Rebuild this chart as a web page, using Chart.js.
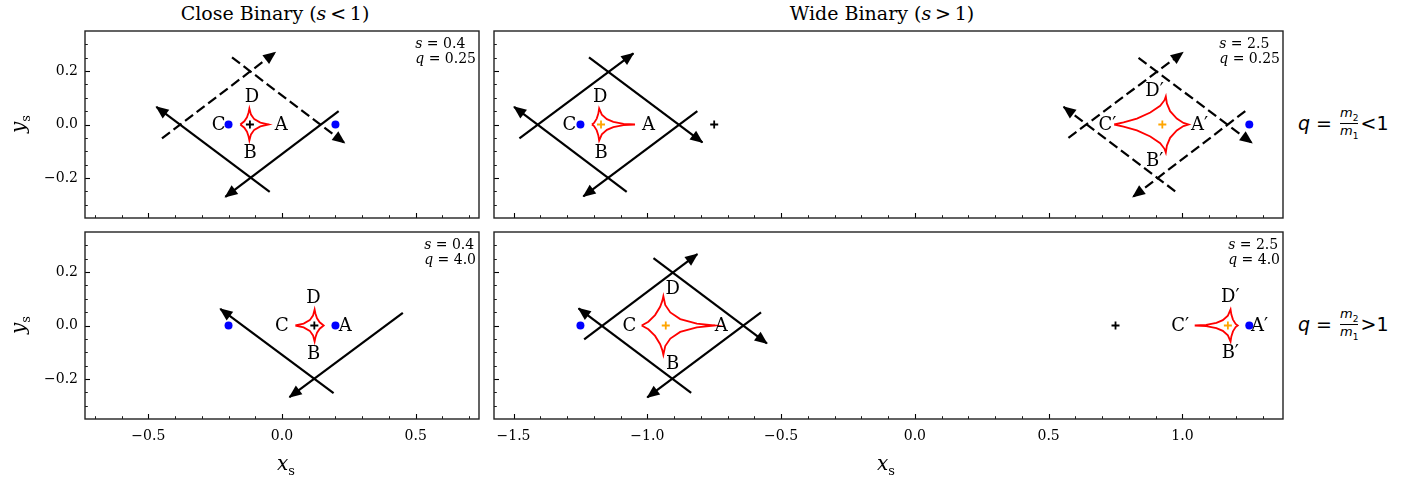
<!DOCTYPE html>
<html>
<head>
<meta charset="utf-8">
<title>Binary lens caustics</title>
<script src="https://cdn.jsdelivr.net/npm/chart.js@4.4.1/dist/chart.umd.min.js"></script>
<style>
  body { margin: 0; background: #fff; }
  #fig { position: relative; width: 1421px; height: 481px; overflow: hidden; font-family: "DejaVu Serif", serif; color: #000; }
  #fig canvas { position: absolute; }
  .lbl { position: absolute; white-space: nowrap; transform: translate(-50%, -50%); }
  .title { font-size: 19px; }
  .axl { font-size: 20px; }
  .axl sub { font-size: 13px; font-style: normal; }
  .rot { transform: translate(-50%, -50%) rotate(-90deg); }
  .side { position: absolute; font-family: "DejaVu Sans", sans-serif; font-size: 19px; white-space: nowrap; transform: translateY(-50%); }
  .frac { display: inline-flex; flex-direction: column; vertical-align: middle; font-size: 13px; line-height: 1.1; text-align: center; margin: 0 2px; }
  .frac span:first-child { border-bottom: 0.8px solid #000; }
  .frac sub { font-size: 9px; font-style: normal; }
</style>
</head>
<body>
<div id="fig">
  <canvas id="cTL"></canvas>
  <canvas id="cTR"></canvas>
  <canvas id="cBL"></canvas>
  <canvas id="cBR"></canvas>

  <div class="lbl title" style="left:275px;top:13px">Close Binary (<i>s</i>&thinsp;&lt;&thinsp;1)</div>
  <div class="lbl title" style="left:882px;top:13px">Wide Binary (<i>s</i>&thinsp;&gt;&thinsp;1)</div>
  <div class="lbl axl rot" style="left:19px;top:124px"><i>y</i><sub>s</sub></div>
  <div class="lbl axl rot" style="left:19px;top:325px"><i>y</i><sub>s</sub></div>
  <div class="lbl axl" style="left:286px;top:464px"><i>x</i><sub>s</sub></div>
  <div class="lbl axl" style="left:886px;top:464px"><i>x</i><sub>s</sub></div>
  <div class="side" style="left:1298px;top:124px"><i>q</i> = <span class="frac"><span><i>m</i><sub>2</sub></span><span><i>m</i><sub>1</sub></span></span>&lt;1</div>
  <div class="side" style="left:1298px;top:325px"><i>q</i> = <span class="frac"><span><i>m</i><sub>2</sub></span><span><i>m</i><sub>1</sub></span></span>&gt;1</div>
</div>
<script>
// axis limits, same scale on x and y
const xRangeClose = [-0.737, 0.737];
const xRangeWide = [-1.573, 1.376];
const yRange = [-0.35, 0.35];

const xTicksClose = [-0.5, 0.0, 0.5];
const xMinorClose = [-0.7, -0.6, -0.4, -0.3, -0.2, -0.1, 0.1, 0.2, 0.3, 0.4, 0.6, 0.7];
const xTicksWide = [-1.5, -1.0, -0.5, 0.0, 0.5, 1.0];
const xMinorWide = [-1.4, -1.3, -1.2, -1.1, -0.9, -0.8, -0.7, -0.6, -0.4, -0.3, -0.2, -0.1,
                    0.1, 0.2, 0.3, 0.4, 0.6, 0.7, 0.8, 0.9, 1.1, 1.2, 1.3];
const yTicks = [-0.2, 0.0, 0.2];
const yMinor = [-0.3, -0.25, -0.15, -0.1, -0.05, 0.05, 0.1, 0.15, 0.25, 0.3];

// ---- close binary, s=0.4, q=0.25
const lensesTL = [[-0.2, 0], [0.2, 0]];
const comTL = [[-0.12, 0]];
const centersTL = [];
const causticTL = [[-0.156, 0], [-0.141, 0.012], [-0.131, 0.027], [-0.125, 0.045], [-0.122, 0.060],
  [-0.116, 0.037], [-0.104, 0.020], [-0.081, 0.007], [-0.050, 0], [-0.081, -0.007], [-0.104, -0.020],
  [-0.116, -0.037], [-0.122, -0.060], [-0.125, -0.045], [-0.131, -0.027], [-0.141, -0.012], [-0.156, 0]];
const solidTL = [[[-0.046, -0.252], [-0.470, 0.066]], [[0.212, 0.050], [-0.212, -0.271]]];
const dashedTL = [[[-0.449, -0.052], [-0.025, 0.270]], [[-0.187, 0.251], [0.234, -0.069]]];
const labelsTL = [['D', -0.112, 0.106], ['C', -0.237, 0], ['A', -0.003, 0], ['B', -0.119, -0.106]];
const paramsTL = ['0.4', '0.25'];

// ---- wide binary, s=2.5, q=0.25
const lensesTR = [[-1.25, 0], [1.25, 0]];
const comTR = [[-0.75, 0]];
const centersTR = [[-1.173, 0], [0.925, 0]];
const causticTR1 = [[-1.207, 0], [-1.199, 0.006], [-1.189, 0.022], [-1.183, 0.041], [-1.180, 0.060],
  [-1.170, 0.037], [-1.151, 0.020], [-1.127, 0.010], [-1.089, 0.002], [-1.046, 0], [-1.089, -0.002],
  [-1.127, -0.010], [-1.151, -0.020], [-1.170, -0.037], [-1.180, -0.060], [-1.183, -0.041],
  [-1.189, -0.022], [-1.199, -0.006], [-1.207, 0]];
const causticTR2 = [[0.745, 0], [0.780, 0.008], [0.830, 0.022], [0.880, 0.045], [0.917, 0.070],
  [0.933, 0.091], [0.938, 0.105], [0.942, 0.079], [0.954, 0.050], [0.979, 0.022], [1.004, 0.006],
  [1.023, 0], [1.004, -0.006], [0.979, -0.022], [0.954, -0.050], [0.942, -0.079], [0.938, -0.105],
  [0.933, -0.091], [0.917, -0.070], [0.880, -0.045], [0.830, -0.022], [0.780, -0.008], [0.745, 0]];
const solidTR = [[[-1.478, -0.052], [-1.052, 0.266]], [[-1.218, 0.251], [-0.794, -0.067]],
  [[-0.813, 0.050], [-1.239, -0.269]], [[-1.077, -0.252], [-1.498, 0.066]]];
const dashedTR = [[[0.574, -0.050], [1.002, 0.270]], [[0.836, 0.249], [1.260, -0.069]],
  [[1.235, 0.050], [0.815, -0.271]], [[0.973, -0.250], [0.556, 0.066]]];
const labelsTR = [['D', -1.176, 0.106], ['C', -1.291, 0], ['A', -0.996, 0], ['B', -1.173, -0.106],
  ['D\u2032', 0.896, 0.128], ['C\u2032', 0.720, 0], ['A\u2032', 1.064, 0], ['B\u2032', 0.896, -0.134]];
const paramsTR = ['2.5', '0.25'];

// ---- close binary, s=0.4, q=4.0
const lensesBL = [[-0.2, 0], [0.2, 0]];
const comBL = [[0.121, 0]];
const centersBL = [];
const causticBL = [[0.050, 0], [0.081, 0.007], [0.104, 0.020], [0.116, 0.037], [0.122, 0.060],
  [0.125, 0.045], [0.131, 0.027], [0.141, 0.012], [0.156, 0], [0.141, -0.012], [0.131, -0.027],
  [0.125, -0.045], [0.122, -0.060], [0.116, -0.037], [0.104, -0.020], [0.081, -0.007], [0.050, 0]];
const solidBL = [[[0.452, 0.047], [0.028, -0.268]], [[0.193, -0.253], [-0.231, 0.062]]];
const dashedBL = [];
const labelsBL = [['D', 0.118, 0.106], ['C', 0.0, 0], ['A', 0.237, 0], ['B', 0.118, -0.106]];
const paramsBL = ['0.4', '4.0'];

// ---- wide binary, s=2.5, q=4.0
const lensesBR = [[-1.25, 0], [1.25, 0]];
const comBR = [[0.75, 0]];
const centersBR = [[-0.931, 0], [1.170, 0]];
const causticBR1 = [[-1.021, 0], [-0.996, 0.014], [-0.971, 0.039], [-0.952, 0.070], [-0.944, 0.092],
  [-0.940, 0.110], [-0.933, 0.077], [-0.914, 0.049], [-0.877, 0.024], [-0.815, 0.007], [-0.747, 0],
  [-0.815, -0.007], [-0.877, -0.024], [-0.914, -0.049], [-0.933, -0.077], [-0.940, -0.110],
  [-0.944, -0.092], [-0.952, -0.070], [-0.971, -0.039], [-0.996, -0.014], [-1.021, 0]];
const causticBR2 = [[1.046, 0], [1.089, 0.002], [1.127, 0.010], [1.151, 0.020], [1.170, 0.037],
  [1.180, 0.060], [1.183, 0.041], [1.189, 0.022], [1.199, 0.006], [1.207, 0], [1.199, -0.006],
  [1.189, -0.022], [1.183, -0.041], [1.180, -0.060], [1.170, -0.037], [1.151, -0.020],
  [1.127, -0.010], [1.089, -0.002], [1.046, 0]];
const solidBR = [[[-1.236, -0.052], [-0.813, 0.267]], [[-0.977, 0.252], [-0.553, -0.067]],
  [[-0.575, 0.049], [-1.000, -0.269]], [[-0.836, -0.252], [-1.257, 0.064]]];
const dashedBR = [];
const labelsBR = [['D', -0.905, 0.139], ['C', -1.067, 0], ['A', -0.724, 0], ['B', -0.905, -0.142],
  ['D\u2032', 1.179, 0.110], ['C\u2032', 0.992, 0], ['A\u2032', 1.288, 0], ['B\u2032', 1.179, -0.102]];
const paramsBR = ['2.5', '4.0'];

const SERIF = '"DejaVu Serif", serif';

function xy(list) {
  return list.map(p => ({ x: p[0], y: p[1] }));
}

function fmtTick(v) {
  if (Math.abs(v) < 1e-9) return '0.0';
  return (v < 0 ? '\u2212' : '') + Math.abs(v).toFixed(1);
}

function buildSets(p) {
  const sets = [];
  sets.push({ data: xy(p.lenses), pointRadius: 4, pointBackgroundColor: '#0000ff', pointBorderWidth: 0 });
  sets.push({ data: xy(p.com), pointStyle: 'cross', pointRadius: 4, pointBorderColor: '#000', pointBorderWidth: 1.8 });
  if (p.centers.length) {
    sets.push({ data: xy(p.centers), pointStyle: 'cross', pointRadius: 4, pointBorderColor: '#ffa500', pointBorderWidth: 1.8 });
  }
  p.caustics.forEach(c => sets.push({
    data: xy(c), showLine: true, borderColor: '#ff0000', borderWidth: 1.8, pointRadius: 0, tension: 0
  }));
  p.solid.forEach(l => sets.push({
    data: xy(l), showLine: true, borderColor: '#000', borderWidth: 2.2, pointRadius: 0, arrow: true
  }));
  p.dashed.forEach(l => sets.push({
    data: xy(l), showLine: true, borderColor: '#000', borderWidth: 2.2, pointRadius: 0,
    borderDash: [10, 4.5], arrow: true
  }));
  return sets;
}

// arrowheads, inward ticks, frame, in-panel text
function decor(p) {
  return {
    id: 'decor',
    afterDatasetsDraw(chart) {
      const ctx = chart.ctx;
      chart.data.datasets.forEach((ds, i) => {
        if (!ds.arrow) return;
        const pts = chart.getDatasetMeta(i).data;
        const a = pts[0], b = pts[1];
        const ang = Math.atan2(b.y - a.y, b.x - a.x);
        const L = 12, W = 5.5;
        const c = Math.cos(ang), s = Math.sin(ang);
        ctx.save();
        ctx.fillStyle = '#000';
        ctx.beginPath();
        ctx.moveTo(b.x + 1 * c, b.y + 1 * s);
        ctx.lineTo(b.x - L * c + W * s, b.y - L * s - W * c);
        ctx.lineTo(b.x - L * c - W * s, b.y - L * s + W * c);
        ctx.closePath();
        ctx.fill();
        ctx.restore();
      });
    },
    afterDraw(chart) {
      const { ctx, chartArea: ca } = chart;
      const x = chart.scales.x, y = chart.scales.y;
      ctx.save();

      ctx.fillStyle = '#000';
      ctx.font = '18px ' + SERIF;
      ctx.textAlign = 'center';
      ctx.textBaseline = 'middle';
      p.labels.forEach(l => ctx.fillText(l[0], x.getPixelForValue(l[1]), y.getPixelForValue(l[2]) + 1));

      // s = .., q = .. block, right-anchored, left-aligned lines
      const lines = [['s', ' = ' + p.params[0]], ['q', ' = ' + p.params[1]]];
      const widths = lines.map(ln => {
        ctx.font = 'italic 14px ' + SERIF;
        const w1 = ctx.measureText(ln[0]).width;
        ctx.font = '14px ' + SERIF;
        return [w1, ctx.measureText(ln[1]).width];
      });
      const maxW = Math.max(...widths.map(w => w[0] + w[1]));
      const x0 = ca.right - 3 - maxW;
      ctx.textAlign = 'left';
      ctx.textBaseline = 'alphabetic';
      lines.forEach((ln, k) => {
        const by = ca.top + 16.5 + k * 15;
        ctx.font = 'italic 14px ' + SERIF;
        ctx.fillText(ln[0], x0, by);
        ctx.font = '14px ' + SERIF;
        ctx.fillText(ln[1], x0 + widths[k][0], by);
      });

      // inward ticks
      ctx.strokeStyle = '#000';
      const tick = (vals, len, lw) => {
        ctx.lineWidth = lw;
        vals.x.forEach(v => {
          const px = Math.round(x.getPixelForValue(v)) + 0.5;
          ctx.beginPath(); ctx.moveTo(px, ca.bottom); ctx.lineTo(px, ca.bottom - len); ctx.stroke();
        });
        vals.y.forEach(v => {
          const py = Math.round(y.getPixelForValue(v)) + 0.5;
          ctx.beginPath(); ctx.moveTo(ca.left, py); ctx.lineTo(ca.left + len, py); ctx.stroke();
        });
      };
      tick({ x: p.xMajor, y: yTicks }, 5, 1.1);
      tick({ x: p.xMinor, y: yMinor }, 2.8, 0.9);

      ctx.strokeStyle = '#222';
      ctx.lineWidth = 1.4;
      ctx.strokeRect(ca.left, ca.top, ca.right - ca.left, ca.bottom - ca.top);
      ctx.restore();
    }
  };
}

function makePanel(id, box, p) {
  const pad = { l: p.showY ? 60 : 3, r: 3, t: 3, b: p.showX ? 40 : 3 };
  const cv = document.getElementById(id);
  cv.width = box.w + pad.l + pad.r;
  cv.height = box.h + pad.t + pad.b;
  cv.style.left = (box.left - pad.l) + 'px';
  cv.style.top = (box.top - pad.t) + 'px';

  return new Chart(cv, {
    type: 'scatter',
    data: { datasets: buildSets(p) },
    options: {
      responsive: false,
      animation: false,
      events: [],
      layout: { autoPadding: false, padding: { top: pad.t, right: pad.r, left: 0, bottom: 0 } },
      plugins: { legend: { display: false }, tooltip: { enabled: false } },
      scales: {
        x: {
          type: 'linear', min: p.xRange[0], max: p.xRange[1],
          grid: { display: false, drawTicks: false }, border: { display: false },
          afterBuildTicks: s => { s.ticks = p.xMajor.map(v => ({ value: v })); },
          ticks: { display: p.showX, padding: 9, color: '#000', font: { family: SERIF, size: 14 },
                   maxRotation: 0, autoSkip: false, callback: v => fmtTick(v) },
          afterFit: s => { s.height = pad.b; s.paddingLeft = 0; s.paddingRight = 0; }
        },
        y: {
          type: 'linear', min: yRange[0], max: yRange[1],
          grid: { display: false, drawTicks: false }, border: { display: false },
          afterBuildTicks: s => { s.ticks = yTicks.map(v => ({ value: v })); },
          ticks: { display: p.showY, padding: 7, color: '#000', font: { family: SERIF, size: 14 },
                   autoSkip: false, callback: v => fmtTick(v) },
          afterFit: s => { s.width = pad.l; s.paddingTop = 0; s.paddingBottom = 0; }
        }
      }
    },
    plugins: [decor(p)]
  });
}

makePanel('cTL', { left: 85, top: 31, w: 394, h: 187 }, {
  xRange: xRangeClose, xMajor: xTicksClose, xMinor: xMinorClose, showX: false, showY: true,
  lenses: lensesTL, com: comTL, centers: centersTL, caustics: [causticTL],
  solid: solidTL, dashed: dashedTL, labels: labelsTL, params: paramsTL
});
makePanel('cTR', { left: 494, top: 31, w: 789, h: 187 }, {
  xRange: xRangeWide, xMajor: xTicksWide, xMinor: xMinorWide, showX: false, showY: false,
  lenses: lensesTR, com: comTR, centers: centersTR, caustics: [causticTR1, causticTR2],
  solid: solidTR, dashed: dashedTR, labels: labelsTR, params: paramsTR
});
makePanel('cBL', { left: 85, top: 232, w: 394, h: 187 }, {
  xRange: xRangeClose, xMajor: xTicksClose, xMinor: xMinorClose, showX: true, showY: true,
  lenses: lensesBL, com: comBL, centers: centersBL, caustics: [causticBL],
  solid: solidBL, dashed: dashedBL, labels: labelsBL, params: paramsBL
});
makePanel('cBR', { left: 494, top: 232, w: 789, h: 187 }, {
  xRange: xRangeWide, xMajor: xTicksWide, xMinor: xMinorWide, showX: true, showY: false,
  lenses: lensesBR, com: comBR, centers: centersBR, caustics: [causticBR1, causticBR2],
  solid: solidBR, dashed: dashedBR, labels: labelsBR, params: paramsBR
});
</script>
</body>
</html>
